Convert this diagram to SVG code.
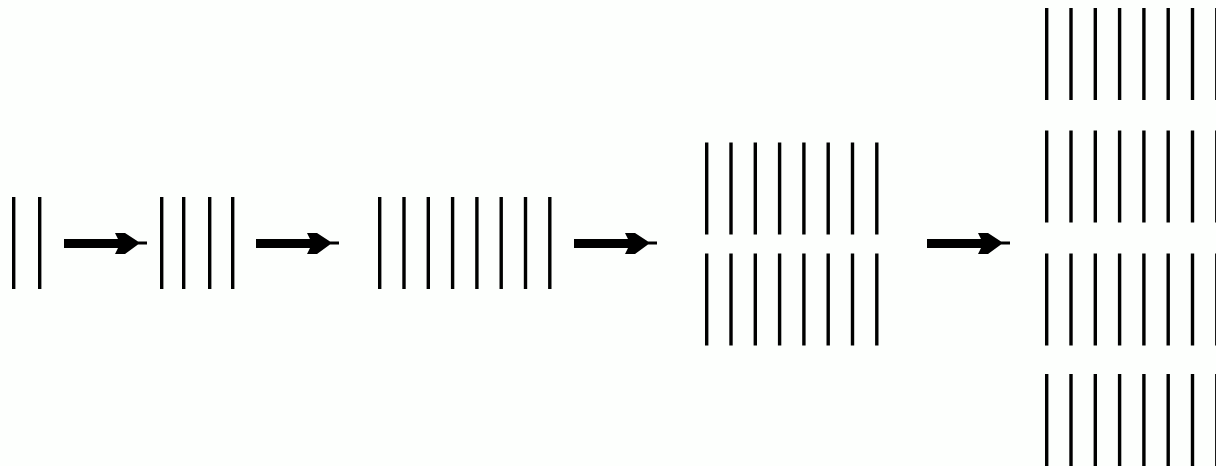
<svg xmlns="http://www.w3.org/2000/svg" xmlns:xlink="http://www.w3.org/1999/xlink" width="1216" height="466" viewBox="0 0 1216 466">
<style>
.bar{fill:#000}
.arr{fill:#000}
</style>
<defs>
<path id="arrow" d="M0,239 H54 L51,233 H61 L74,241.5 H83 V244.5 H74 L61,254 H51 L54,248 H0 Z"/>
<rect id="b92" width="3.4" height="92"/>
<g id="row8">
<use href="#b92" x="0"/><use href="#b92" x="24.3"/><use href="#b92" x="48.6"/><use href="#b92" x="72.9"/>
<use href="#b92" x="97.2"/><use href="#b92" x="121.5"/><use href="#b92" x="145.8"/><use href="#b92" x="170.1"/>
</g>
</defs>
<rect width="1216" height="466" fill="#fdfffd"/>
<g id="n2" class="bar">
<use href="#b92" x="12" y="197"/><use href="#b92" x="38" y="197"/>
</g>
<g id="n4" class="bar">
<use href="#b92" x="160" y="197"/><use href="#b92" x="182" y="197"/><use href="#b92" x="208" y="197"/><use href="#b92" x="231" y="197"/>
</g>
<g id="n8" class="bar">
<use href="#row8" x="378" y="197"/>
</g>
<g id="n16" class="bar">
<use href="#row8" x="705" y="142.5"/>
<use href="#row8" x="705" y="253.5"/>
</g>
<g id="n32" class="bar">
<use href="#row8" x="1045" y="8"/>
<use href="#row8" x="1045" y="130.5"/>
<use href="#row8" x="1045" y="253.5"/>
<use href="#row8" x="1045" y="374"/>
</g>
<g id="connectors" class="arr">
<use href="#arrow" x="64"/>
<use href="#arrow" x="256"/>
<use href="#arrow" x="574"/>
<use href="#arrow" x="927"/>
</g>
</svg>
